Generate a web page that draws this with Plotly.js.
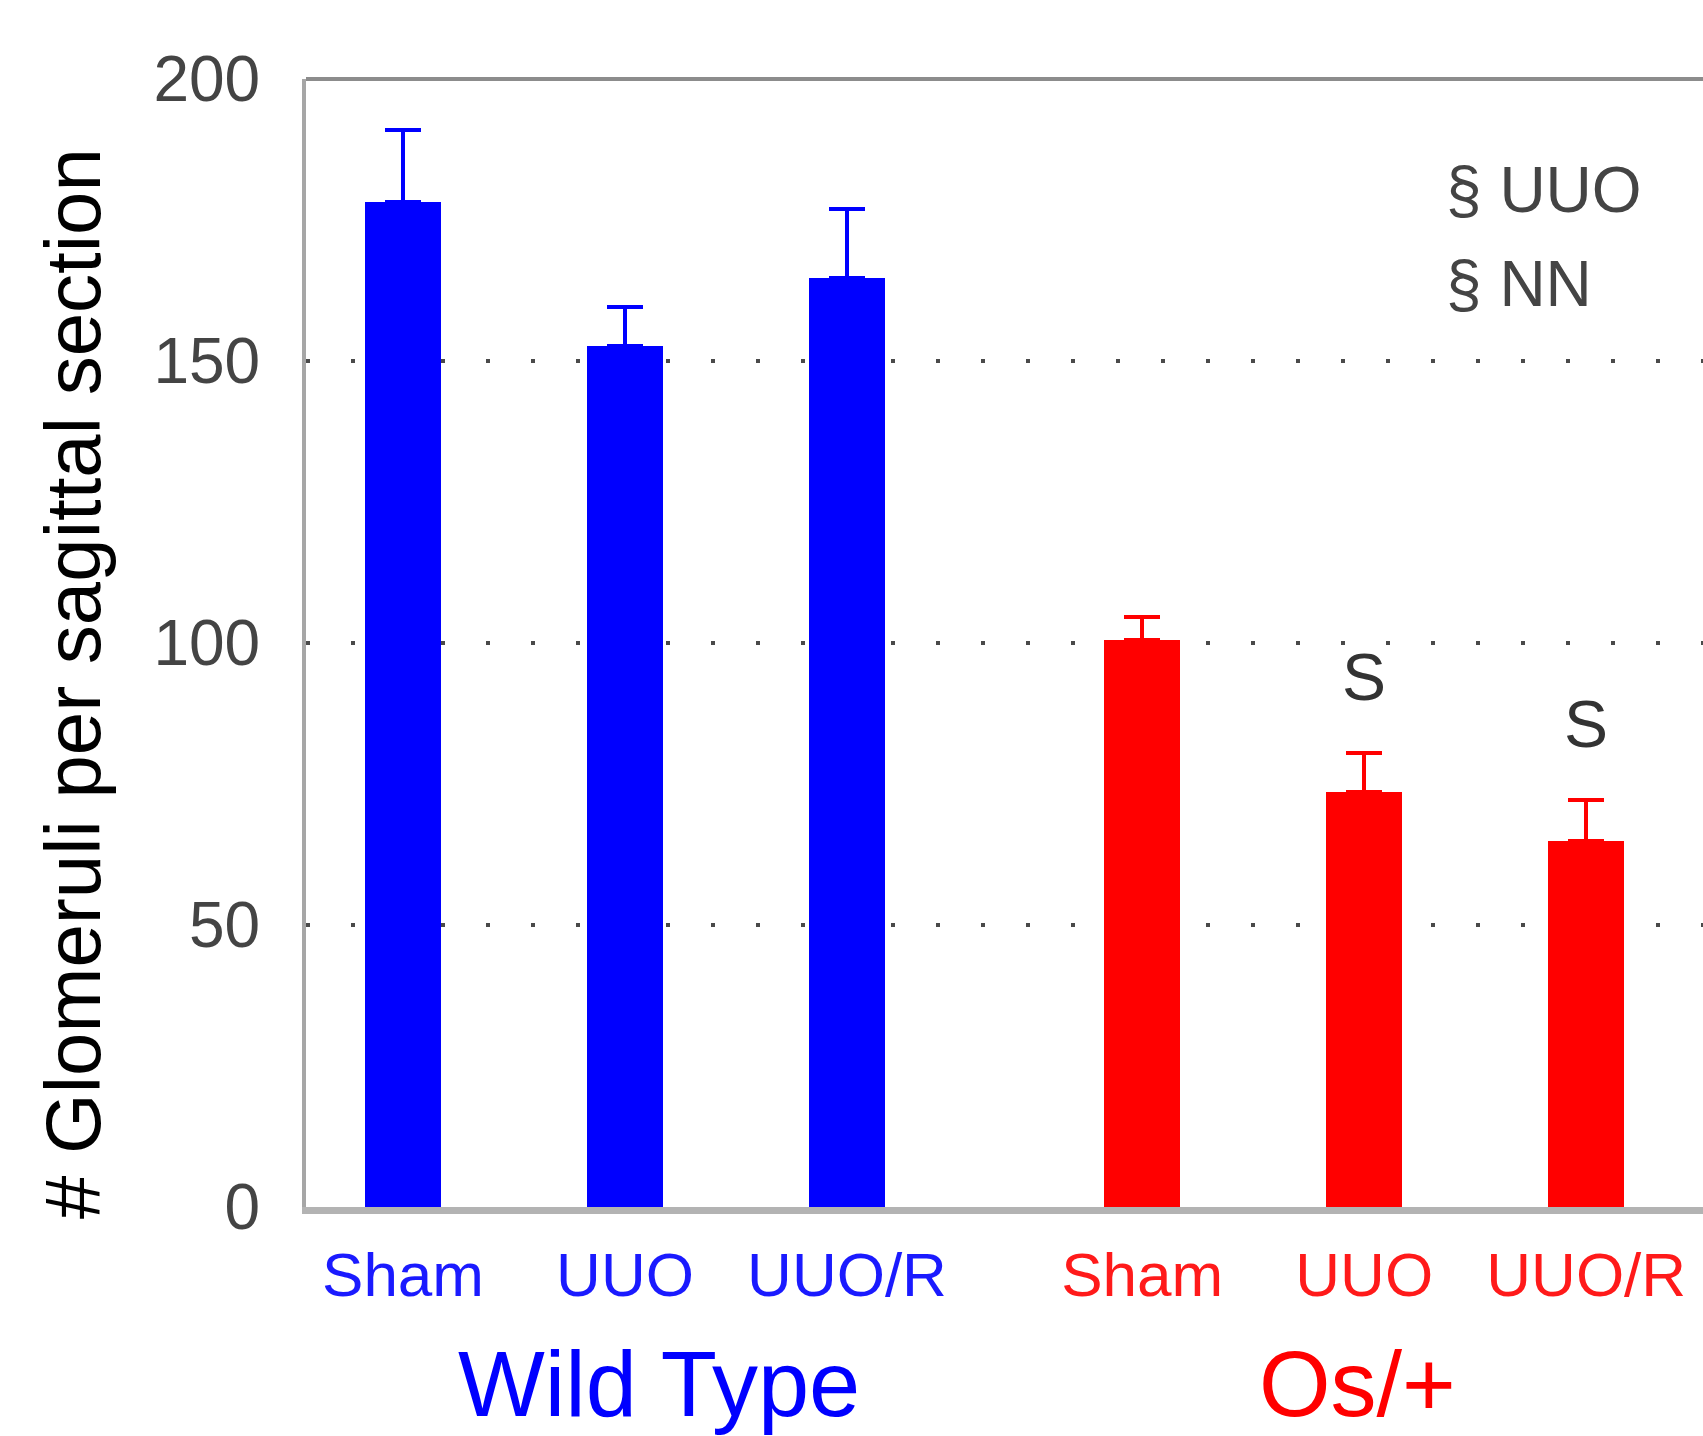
<!DOCTYPE html>
<html>
<head>
<meta charset="utf-8">
<script src="https://cdn.plot.ly/plotly-3.0.1.min.js"></script>
<style>
  html, body { margin: 0; padding: 0; background: #fff; overflow: hidden; }
  #chart { width: 1703px; height: 1436px; }
</style>
</head>
<body>
<div id="chart"></div>
<script>
// ---- data ----
const categories = ["Sham", "UUO", "UUO/R", "Sham", "UUO", "UUO/R"];
const genotypes  = ["Wild Type", "Wild Type", "Wild Type", "Os/+", "Os/+", "Os/+"];
const positions  = [1, 2, 3, 4.33, 5.33, 6.33];
const means      = [178.2, 152.6, 164.7, 100.6, 73.6, 64.9];
const sems       = [12.8, 6.9, 12.2, 4.0, 6.9, 7.2];
const sigMarks   = ["", "", "", "", "S", "S"];
const yTicks     = [0, 50, 100, 150, 200];
const groupNames = ["Wild Type", "Os/+"];
const groupColors = {"Wild Type": "#0000ff", "Os/+": "#ff0000"};
const labelColors = {"Wild Type": "#1a1aff", "Os/+": "#ff1a1a"};
const legendNotes = ["§ UUO", "§ NN"];

const FONT = "Liberation Sans, Arial, Helvetica, sans-serif";

// ---- traces ----
const traces = groupNames.map(g => {
  const idx = genotypes.map((v, i) => v === g ? i : -1).filter(i => i >= 0);
  return {
    type: "bar",
    name: g,
    x: idx.map(i => positions[i]),
    y: idx.map(i => means[i]),
    width: 0.342,
    marker: {color: groupColors[g], line: {width: 0}},
    error_y: {
      type: "data",
      symmetric: false,
      array: idx.map(i => sems[i]),
      arrayminus: idx.map(() => 0),
      color: groupColors[g],
      thickness: 4,
      width: 18
    },
    hoverinfo: "skip"
  };
});

// ---- annotations ----
const annotations = [];
// y-axis title
annotations.push({
  xref: "paper", yref: "paper",
  x: (73 - 306) / 1397, y: (1207 - 684) / 1128,
  xanchor: "center", yanchor: "middle",
  text: "# Glomeruli per sagittal section",
  textangle: -90, showarrow: false,
  font: {family: FONT, size: 78, color: "#000"}
});
// group labels
const groupLabelX = {"Wild Type": (659 - 306) / 1397, "Os/+": (1357 - 306) / 1397};
groupNames.forEach(g => {
  annotations.push({
    xref: "paper", yref: "paper",
    x: groupLabelX[g], y: (1207 - 1384) / 1128,
    xanchor: "center", yanchor: "middle",
    text: g, showarrow: false,
    font: {family: FONT, size: 92, color: groupColors[g]}
  });
});
// significance marks
sigMarks.forEach((s, i) => {
  if (!s) return;
  annotations.push({
    xref: "x", yref: "y",
    x: positions[i], y: means[i] + sems[i],
    xanchor: "center", yanchor: "middle", yshift: 76,
    text: s, showarrow: false,
    font: {family: FONT, size: 66, color: "#333"}
  });
});
// notes in the upper right
const noteY = [(1207 - 190) / 1128, (1207 - 284) / 1128];
legendNotes.forEach((t, i) => {
  annotations.push({
    xref: "paper", yref: "paper",
    x: (1444 - 306) / 1397, y: noteY[i],
    xanchor: "left", yanchor: "middle",
    text: t, showarrow: false,
    font: {family: FONT, size: 64, color: "#444"}
  });
});

const layout = {
  width: 1703, height: 1436,
  margin: {l: 306, r: 0, t: 79, b: 229, pad: 0},
  paper_bgcolor: "#fff", plot_bgcolor: "#fff",
  showlegend: false,
  bargap: 0,
  xaxis: {
    range: [0.563, 6.856],
    tickmode: "array",
    tickvals: positions,
    ticktext: categories.map((c, i) => `<span style="color:${labelColors[genotypes[i]]}">${c}</span>`),
    ticks: "",
    ticklabelstandoff: 8,
    tickfont: {family: FONT, size: 62, color: "#1a1aff"},
    showgrid: false, zeroline: false,
    showline: true, linecolor: "#b3b3b3", linewidth: 7,
    fixedrange: true
  },
  yaxis: {
    range: [0, 200],
    tickmode: "array",
    tickvals: yTicks,
    ticktext: yTicks.map(String),
    ticks: "",
    ticklabelstandoff: 29,
    tickfont: {family: FONT, size: 64, color: "#444"},
    showgrid: true, gridcolor: "#4a4a4a", gridwidth: 4, griddash: "4px,41px",
    zeroline: false,
    showline: true, linecolor: "#a6a6a6", linewidth: 4,
    fixedrange: true
  },
  shapes: [{
    type: "line", xref: "paper", yref: "paper",
    x0: 0, x1: 1, y0: 1, y1: 1,
    line: {color: "#8c8c8c", width: 4}
  }],
  annotations: annotations
};

Plotly.newPlot("chart", traces, layout, {staticPlot: true, displayModeBar: false});
</script>
</body>
</html>
